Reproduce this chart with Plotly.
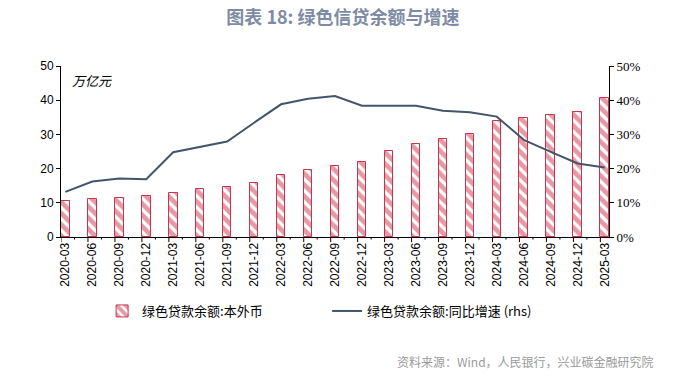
import plotly.graph_objects as go

categories = ["2020-03","2020-06","2020-09","2020-12","2021-03","2021-06","2021-09","2021-12",
              "2022-03","2022-06","2022-09","2022-12","2023-03","2023-06","2023-09","2023-12",
              "2024-03","2024-06","2024-09","2024-12","2025-03"]
balance = [10.5, 11.1, 11.4, 12.0, 12.9, 14.0, 14.6, 15.8, 18.1, 19.6, 20.9, 22.0,
           25.2, 27.2, 28.7, 30.1, 33.9, 34.8, 35.7, 36.6, 40.6]
growth = [13.2, 16.2, 17.1, 16.9, 24.8, 26.4, 27.9, 33.4, 38.8, 40.4, 41.2, 38.4,
          38.4, 38.4, 36.9, 36.5, 35.2, 28.4, 24.9, 21.5, 20.3]
growth_frac = [g / 100 for g in growth]
left_ticks = [0, 10, 20, 30, 40, 50]
right_ticks = [0, 0.1, 0.2, 0.3, 0.4, 0.5]

red = "#c9334b"
navy = "#44546a"
idx = list(range(len(categories)))

fig = go.Figure()
fig.add_trace(go.Bar(
    x=idx, y=balance, name="绿色贷款余额:本外币",
    width=0.32, offset=-0.16,
    marker=dict(color="white", line=dict(color=red, width=1),
                pattern=dict(shape="\\", fgcolor=red, bgcolor="white", size=8, solidity=0.6)),
    yaxis="y"))
fig.add_trace(go.Scatter(
    x=idx, y=growth_frac, name="绿色贷款余额:同比增速 (rhs)", mode="lines",
    line=dict(color=navy, width=2), yaxis="y2"))

fig.update_layout(
    width=690, height=377,
    margin=dict(l=61, r=81, t=66, b=140, autoexpand=False),
    paper_bgcolor="white", plot_bgcolor="white",
    showlegend=True,
    title=dict(text="<b>图表 18: 绿色信贷余额与增速</b>", x=0.497, xanchor="center",
               y=1 - 18 / 377, yanchor="middle",
               font=dict(family="Noto Sans CJK SC", size=18, color="#7d8ca4")),
    xaxis=dict(range=[-0.16, 20.16], tickmode="array", tickvals=idx, ticktext=categories,
               tickangle=-90, ticks="", showline=True, linecolor="black", linewidth=1,
               showgrid=False, zeroline=False,
               tickfont=dict(family="Liberation Sans", size=12, color="black")),
    yaxis=dict(range=[0, 50], tickvals=left_ticks, ticks="outside", ticklen=4,
               tickcolor="black", showline=True, linecolor="black", linewidth=1,
               showgrid=False, zeroline=False,
               tickfont=dict(family="Liberation Sans", size=12, color="black")),
    yaxis2=dict(range=[0, 0.5], tickvals=right_ticks, tickformat=".0%", overlaying="y",
                side="right", ticks="outside", ticklen=4, tickcolor="black",
                showline=True, linecolor="black", linewidth=1, showgrid=False, zeroline=False,
                tickfont=dict(family="Liberation Serif", size=13, color="black")),
    legend=dict(orientation="h", x=0.075, xanchor="left",
                yref="container", y=1 - 311 / 377, yanchor="middle",
                entrywidth=180, entrywidthmode="pixels",
                font=dict(family="Noto Sans CJK SC", size=13, color="black"),
                bgcolor="rgba(0,0,0,0)"),
    bargap=0,
)

# x-axis tick marks (major at bar left edges, minor between)
major = [i - 0.16 for i in idx]
minor = [i + 0.34 for i in idx[:-1]]
for xv in major:
    fig.add_shape(type="line", xref="x", yref="paper", x0=xv, x1=xv, y0=0, y1=-0.03,
                  line=dict(color="black", width=1))
for xv in minor:
    fig.add_shape(type="line", xref="x", yref="paper", x0=xv, x1=xv, y0=0, y1=-0.015,
                  line=dict(color="black", width=1))

fig.add_annotation(text="<i>万亿元</i>", xref="paper", yref="paper",
                   x=(70 - 61) / 548, y=(237 - 80) / 171, xanchor="left", yanchor="middle",
                   showarrow=False, font=dict(family="Noto Sans CJK SC", size=13, color="black"))
fig.add_annotation(text="资料来源：Wind，人民银行，兴业碳金融研究院", xref="paper", yref="paper",
                   x=(656 - 61) / 548, y=(237 - 361) / 171, xanchor="right", yanchor="middle",
                   showarrow=False, font=dict(family="Noto Sans CJK SC", size=12, color="#9a9a9a"))

fig.write_html("out.html", config={"displayModeBar": False},
               post_script="document.body.style.margin='0';")
